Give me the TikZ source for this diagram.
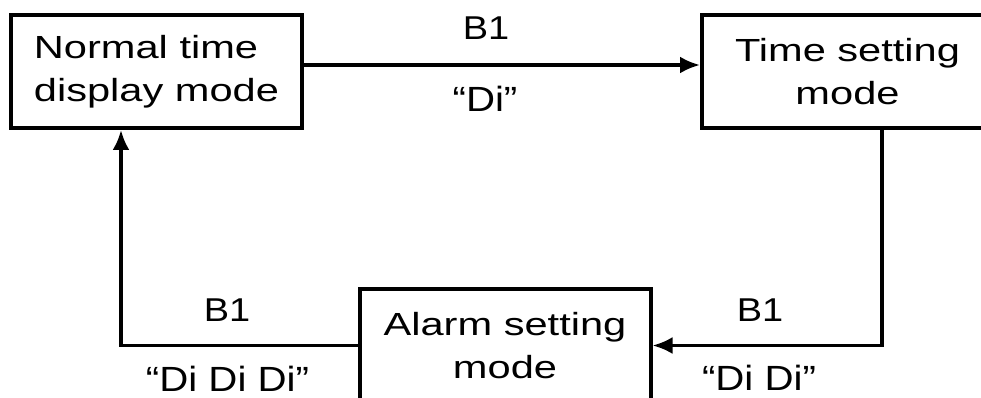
\documentclass[tikz,border=0pt]{standalone}
\usepackage{fontspec}
\setmainfont{Liberation Sans}[FakeStretch=1.3]
\newfontfamily\labelfont{Liberation Sans}[FakeStretch=1.15]
\usetikzlibrary{arrows.meta}
\tikzset{>={Latex[length=20pt,width=17pt]}}
\tikzset{modebox/.style={draw, line width=4pt, minimum width=291pt, minimum height=113pt, inner sep=0pt, font=\fontsize{32}{43}\selectfont},
  flow/.style={line width=3.5pt, ->},
  keylabel/.style={font=\labelfont\fontsize{33}{40}\selectfont, inner sep=0pt},
  beeplabel/.style={font=\labelfont\fontsize{35}{40}\selectfont, inner sep=0pt}}

\begin{document}
\begin{tikzpicture}[x=1pt,y=-1pt]
\useasboundingbox (0,0) rectangle (981,398);
% the three modes
\node[modebox, align=left] (normal) at (156.5,71.5) {Normal time\\display mode};
\node[modebox, align=center] (timeset) at (847.5,71.5) {Time setting\\mode};
\node[modebox, align=center] (alarm) at (505,345.5) {Alarm setting\\mode};
% corners of the loop
\coordinate (rcorner) at (882,346);
\coordinate (lcorner) at (121,345);
% key presses
\draw[flow] ([yshift=6.5pt]normal.east) -- ([yshift=6.5pt]timeset.west);
\draw[flow] (timeset.south -| rcorner) |- (alarm.east);
\draw[flow] (alarm.west) -| (normal.south -| lcorner);
% labels
\node[keylabel] (btop) at (486,28) {B1};
\node[beeplabel] (ditop) at (485,99) {“Di”};
\node[keylabel] (bright) at (760,310) {B1};
\node[beeplabel] (diright) at (759,378) {“Di Di”};
\node[keylabel] (bleft) at (227,310) {B1};
\node[beeplabel] (dileft) at (227.5,379) {“Di Di Di”};
\end{tikzpicture}
\end{document}
